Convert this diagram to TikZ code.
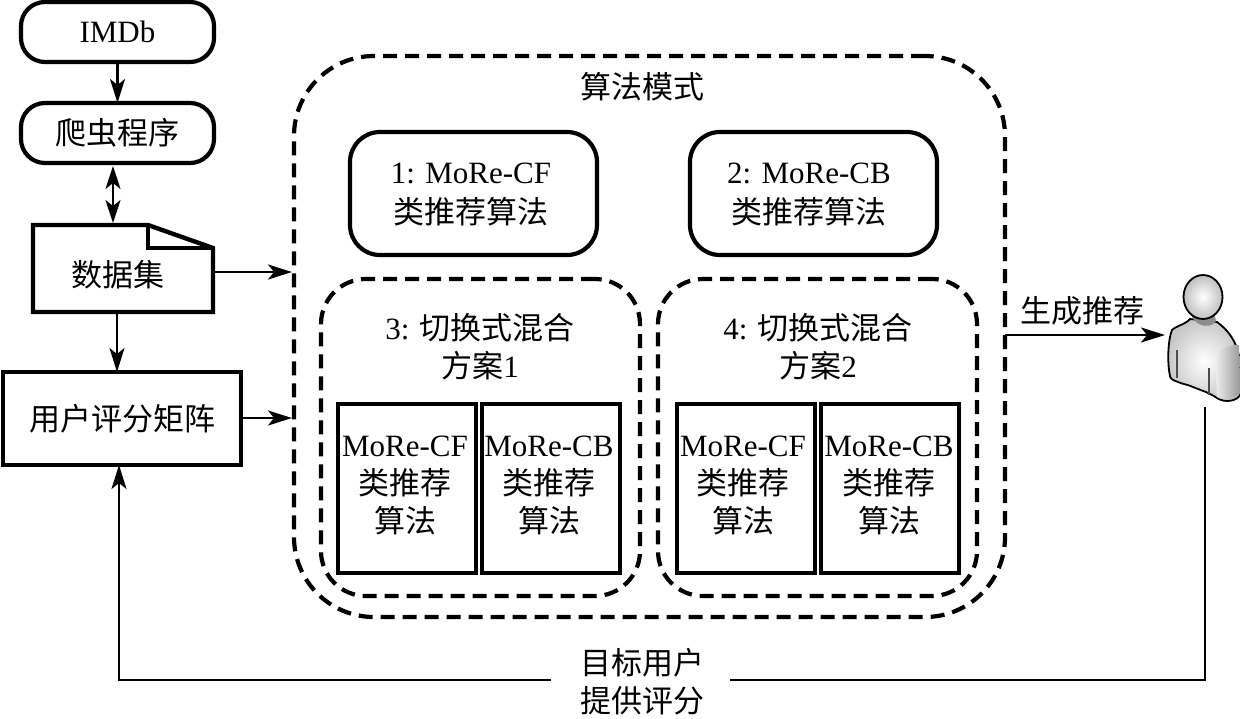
\documentclass[tikz,border=0pt]{standalone}
\usepackage{fontspec}
\setmainfont{Liberation Serif}
\newfontfamily\cjk{Noto Sans CJK SC}
\usetikzlibrary{arrows.meta,positioning}
\tikzset{
  x=1pt,y=-1pt,
  base/.style={inner sep=0pt,outer sep=0pt,align=center,font=\fontsize{31}{39}\selectfont},
  solidbox/.style={base,draw,line width=4.4pt},
  roundbox/.style={solidbox,line width=4.2pt,rounded corners=24pt},
  dashbox/.style={base,draw,line width=4.2pt,dash pattern=on 14pt off 8pt},
  link/.style={line width=2.2pt,-{Stealth[length=24pt,width=15pt,inset=6pt]}},
  plain/.style={line width=2.2pt},
  both/.style={line width=2.2pt,{Stealth[length=23pt,width=15pt,inset=6pt]}-{Stealth[length=23pt,width=15pt,inset=6pt]}},
  caption/.style={base},
}
\newcommand{\cn}[1]{{\cjk\fontsize{31}{39}\selectfont #1}}
\begin{document}
\begin{tikzpicture}
\useasboundingbox (0,0) rectangle (1240,718);
% left column
\node[roundbox,minimum width=193pt,minimum height=60pt] (imdb) at (117.5,32) {IMDb};
\node[roundbox,minimum width=193pt,minimum height=60pt] (crawler) at (117.5,133) {\cn{爬虫程序}};
\draw[line width=4.4pt,line join=miter] (33,225) -- (148,225) -- (213,248) -- (213,312) -- (33,312) -- cycle;
\draw[line width=4.4pt,line join=miter] (148,225) -- (148,248) -- (213,248);
\node[base] (data) at (117.5,275) {\cn{数据集}};
\coordinate (datatop) at (113,223);
\coordinate (databot) at (117,314);
\coordinate (dataright) at (215,272);
\node[solidbox,minimum width=238pt,minimum height=93pt] (matrix) at (122,418.5) {\cn{用户评分矩阵}};
% outer region
\node[dashbox,rounded corners=80pt,minimum width=711pt,minimum height=561pt] (mode) at (649.5,336.5) {};
\node[caption] (modelabel) at (642,87) {\cn{算法模式}};
\node[roundbox,rounded corners=30pt,minimum width=247pt,minimum height=123pt] (a1) at (473.5,193.5) {};
\node[roundbox,rounded corners=30pt,minimum width=247pt,minimum height=123pt] (a2) at (813.5,193.5) {};
\node[caption] (a1label) at (471,194) {1: MoRe-CF\\[1pt]\cn{类推荐算法}};
\node[caption] (a2label) at (809,194) {2: MoRe-CB\\[1pt]\cn{类推荐算法}};
\node[dashbox,rounded corners=45pt,minimum width=319pt,minimum height=317pt] (a3) at (480.5,437.5) {};
\node[dashbox,rounded corners=45pt,minimum width=319pt,minimum height=317pt] (a4) at (817.5,437.5) {};
\node[caption] (a3label) at (480,347) {3: \cn{切换式混合}\\[-1pt]\cn{方案}1};
\node[caption] (a4label) at (818,347) {4: \cn{切换式混合}\\[-1pt]\cn{方案}2};
\foreach \nm/\cx/\lx/\tx in {b1/407/405/MoRe-CF,b2/551/549/MoRe-CB,b3/746/743/MoRe-CF,b4/890/889/MoRe-CB}{
  \node[solidbox,minimum width=138pt,minimum height=169pt] (\nm) at (\cx,488.5) {};
  \node[caption] (\nm label) at (\lx,485) {\tx\\[-1pt]\cn{类推荐}\\[-1pt]\cn{算法}};
}
% person
\shade[inner color=white,outer color=black!22,draw=black,line width=1.8pt]
  (1172,330) .. controls (1176,326) and (1186,324) .. (1190,319) -- (1217,322)
  .. controls (1228,330) and (1238,342) .. (1240,363) -- (1241,393)
  .. controls (1238,402) and (1224,403) .. (1217,398)
  .. controls (1208,392) and (1200,390) .. (1193,387)
  .. controls (1186,384) and (1182,384) .. (1178,382)
  .. controls (1172,380) and (1170,378) .. (1170,376)
  .. controls (1167,362) and (1168,340) .. (1172,330) -- cycle;
\fill[black!45] (1192,317) .. controls (1198,328) and (1212,328) .. (1216,321) -- (1214,312) -- (1194,312) -- cycle;
\shade[inner color=white,outer color=black!25,draw=black,line width=1.8pt] (1203,297) ellipse (19.5pt and 22pt);
\shade[left color=black!6,right color=black!40] (1215,357) .. controls (1218,350) and (1230,344) .. (1239,345) -- (1240,392) .. controls (1236,400) and (1224,401) .. (1217,397) -- cycle;
\draw[line width=1.2pt,black!70] (1177,350) -- (1177,378);
\draw[line width=1.2pt,black!70] (1209,368) -- (1209,395);
\coordinate (personleft) at (1165,335);
\coordinate (personbot) at (1205,407);
% connectors
\draw[link] (imdb) -- (crawler);
\draw[both] (113,166) -- (datatop);
\draw[link] (databot) -- (matrix.north -| databot);
\coordinate (modeA) at (292,272);
\coordinate (modeB) at (292,418);
\draw[link] (dataright) -- (modeA);
\draw[link] (matrix.east |- modeB) -- (modeB);
\coordinate (modeC) at (1005,335);
\draw[link] (modeC) -- (personleft);
\node[caption] (gen) at (1082,311) {\cn{生成推荐}};
\node[caption] (fb) at (642,682) {\cn{目标用户}\\[-1pt]\cn{提供评分}};
\coordinate (cl) at (119,680);
\draw[plain] (personbot) -- (1205,680) -- (730,680);
\draw[link] (551,680) -- (cl) -- (matrix.south -| cl);
\end{tikzpicture}
\end{document}
